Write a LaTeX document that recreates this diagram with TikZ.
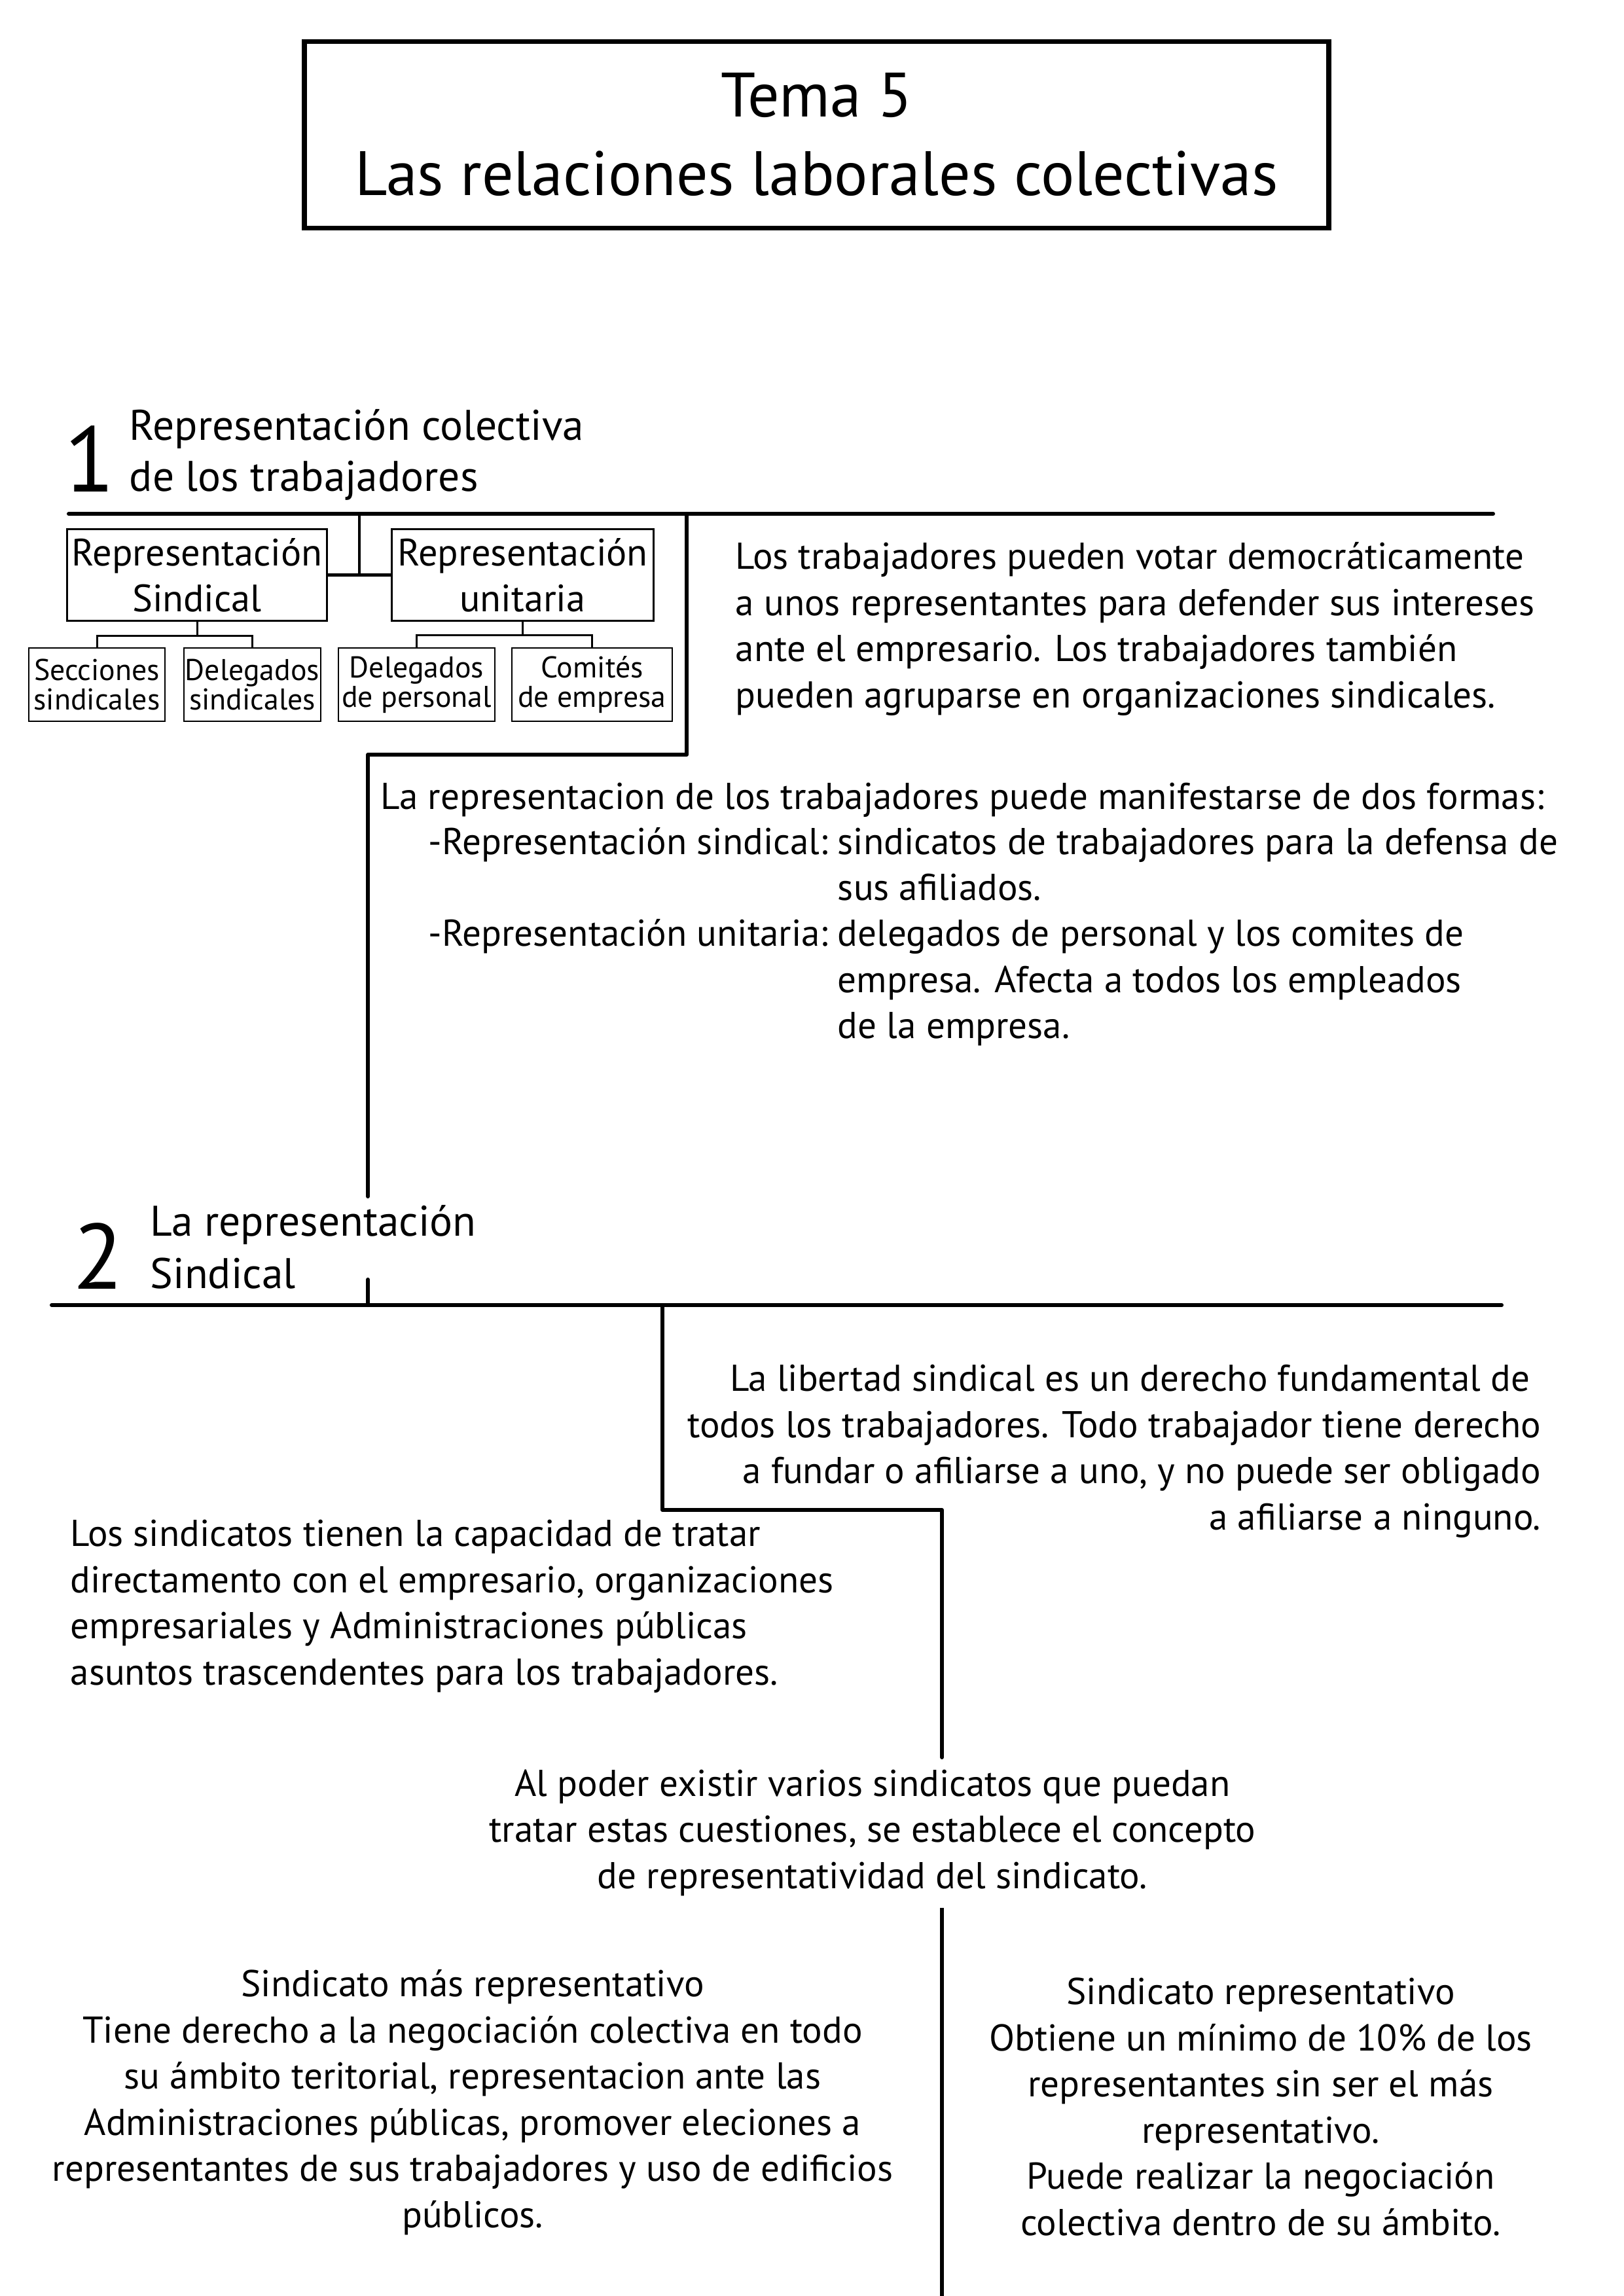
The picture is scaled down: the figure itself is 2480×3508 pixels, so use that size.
\documentclass[tikz,border=0pt]{standalone}
\usepackage{fontspec}
\setmainfont{PT Sans}
\usetikzlibrary{positioning}
\tikzset{
  mainline/.style={line width=1.45pt, line join=round, line cap=round},
  orgbox/.style={draw, line width=0.72pt, inner sep=0pt, minimum height=33.4pt, align=center, font=\fontsize{14}{16.8}\selectfont},
  subbox/.style={draw, line width=0.6pt, inner sep=0pt, minimum height=26.9pt, align=center, font=\fontsize{11}{10.8}\selectfont},
  orgline/.style={line width=0.72pt},
  bodytext/.style={inner sep=0pt, font=\fontsize{13.7}{16.9}\selectfont},
  headtext/.style={inner sep=0pt, align=left, font=\fontsize{15.7}{18.9}\selectfont},
  bignum/.style={inner sep=0pt, anchor=base west, font=\fontsize{34}{34}\selectfont}
}
\begin{document}
\begin{tikzpicture}[x=0.24pt, y=-0.24pt]
\useasboundingbox (0,0) rectangle (2480,3508);
\node (title) at (1247.5,206) [draw, line width=1.7pt, minimum width=375.6pt, minimum height=68.6pt, align=center, font=\fontsize{23}{28.8}\selectfont] {Tema 5\\Las relaciones laborales colectivas};
% apartado 1
\node (num1) at (98,752) [bignum] {1};
\node (head1) at (197,751) [headtext, anchor=base west] {Representación colectiva\\de los trabajadores};
\coordinate (l1a) at (105,785);
\coordinate (l1b) at (2281,785);
\draw [mainline] (l1a) -- (l1b);
\node (rs) at (301,878.5) [orgbox, minimum width=95.5pt] {Representación\\Sindical};
\node (ru) at (798.5,878.5) [orgbox, minimum width=95.8pt] {Representación\\unitaria};
\node (ss) at (148,1046) [subbox, minimum width=49.9pt] {Secciones\\sindicales};
\node (ds) at (385.5,1046) [subbox, minimum width=50.2pt] {Delegados\\sindicales};
\node (dp) at (636.5,1046) [subbox, minimum width=57.4pt] {Delegados\\de personal};
\node (ce) at (904.5,1046) [subbox, minimum width=58.8pt] {Comités\\de empresa};
\coordinate (top1) at (549,785);
\draw [line width=1pt] (top1) -- (549,879);
\draw [line width=1.2pt] (rs.east) -- (ru.west);
\draw [orgline] (rs.south) -- ++(0,22) coordinate (rsj);
\draw [orgline] (ss.north) |- (rsj) -| (ds.north);
\draw [orgline] (ru.south) -- ++(0,21) coordinate (ruj);
\draw [orgline] (dp.north) |- (ruj) -| (ce.north);
\node (txt1) at (1123,1081) [bodytext, anchor=base west, align=left] {Los trabajadores pueden votar democráticamente\\a unos representantes para defender sus intereses\\ante el empresario. Los trabajadores también\\pueden agruparse en organizaciones sindicales.};
\coordinate (d1) at (1049,785);
\coordinate (d2) at (1049,1153);
\coordinate (d3) at (562,1153);
\coordinate (d4) at (562,1828);
\draw [mainline] (d1) -- (d2) -- (d3) -- (d4);
\node (txt2) at (581,1236) [bodytext, anchor=base west, align=left] {La representacion de los trabajadores puede manifestarse de dos formas:};
\node (txt3) at (654,1305) [bodytext, anchor=base west] {\begin{tabular}[t]{@{}l@{\hspace{3.5pt}}l@{}}
-Representación sindical: & sindicatos de trabajadores para la defensa de\\
 & sus afiliados.\\
-Representación unitaria: & delegados de personal y los comites de\\
 & empresa. Afecta a todos los empleados\\
 & de la empresa.
\end{tabular}};
% apartado 2
\node (num2) at (111,1969) [bignum] {2};
\node (head2) at (229,1968) [headtext, anchor=base west, font=\fontsize{15.7}{19.2}\selectfont] {La representación\\Sindical};
\coordinate (d5) at (562,1955);
\coordinate (l2a) at (79,1994);
\coordinate (l2b) at (2294,1994);
\draw [mainline] (d5) -- (562,1994);
\draw [mainline] (l2a) -- (l2b);
\coordinate (e1) at (1012,1994);
\coordinate (e2) at (1012,2307);
\coordinate (e3) at (1439,2307);
\coordinate (e4) at (1439,2685);
\draw [mainline] (e1) -- (e2) -- (e3) -- (e4);
\node (txt4) at (2355,2337) [bodytext, anchor=base east, align=right] {La libertad sindical es un derecho fundamental de\hspace*{0.3em}\\todos los trabajadores. Todo trabajador tiene derecho\\a fundar o afiliarse a uno, y no puede ser obligado\\a afiliarse a ninguno.};
\node (txt5) at (107,2574) [bodytext, anchor=base west, align=left] {Los sindicatos tienen la capacidad de tratar\\directamento con el empresario, organizaciones\\empresariales y Administraciones públicas\\asuntos trascendentes para los trabajadores.};
\node (txt6) at (1333,2885) [bodytext, anchor=base, align=center] {Al poder existir varios sindicatos que puedan\\tratar estas cuestiones, se establece el concepto\\de representatividad del sindicato.};
\coordinate (e5) at (1439,2915);
\coordinate (e6) at (1439,3508);
\draw [mainline, line cap=butt] (e5) -- (e6);
\node (txt7) at (722,3403) [bodytext, anchor=base, align=center] {Sindicato más representativo\\Tiene derecho a la negociación colectiva en todo\\su ámbito teritorial, representacion ante las\\Administraciones públicas, promover eleciones a\\representantes de sus trabajadores y uso de edificios\\públicos.};
\node (txt8) at (1926,3415) [bodytext, anchor=base, align=center] {Sindicato representativo\\Obtiene un mínimo de 10\% de los\\representantes sin ser el más\\representativo.\\Puede realizar la negociación\\colectiva dentro de su ámbito.};
\end{tikzpicture}
\end{document}
